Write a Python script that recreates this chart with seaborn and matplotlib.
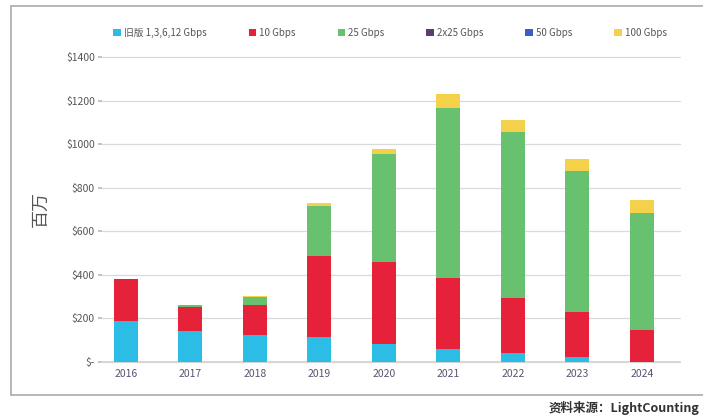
import numpy as np
import pandas as pd
import matplotlib
matplotlib.use("Agg")
import matplotlib.pyplot as plt
from matplotlib.patches import Patch
from matplotlib.lines import Line2D
import seaborn as sns

years = ["2016", "2017", "2018", "2019", "2020", "2021", "2022", "2023", "2024"]
legacy = [189, 141, 123, 115, 81, 57, 38, 20, 0]
g10 = [193, 109, 138, 371, 378, 326, 256, 207, 146]
g25 = [0, 9, 38, 230, 496, 783, 763, 652, 537]
g2x25 = [0, 0, 0, 0, 0, 0, 0, 0, 0]
g50 = [0, 0, 0, 0, 0, 0, 0, 0, 0]
g100 = [0, 0, 3, 16, 22, 66, 55, 53, 61]

series_names = ["旧版 1,3,6,12 Gbps", "10 Gbps", "25 Gbps", "2x25 Gbps", "50 Gbps", "100 Gbps"]
series_vals = [legacy, g10, g25, g2x25, g50, g100]
colors = ["#2BBDE5", "#E6213A", "#67C16F", "#5B3E6B", "#3B5EC6", "#F3D14B"]
yticks = [0, 200, 400, 600, 800, 1000, 1200, 1400]
ytick_labels = ["$-", "$200", "$400", "$600", "$800", "$1000", "$1200", "$1400"]

sns.set_theme(style="white")
plt.rcParams["font.family"] = ["Noto Sans CJK SC", "DejaVu Sans"]

fig = plt.figure(figsize=(7.03, 4.18), dpi=100)
ax = fig.add_axes([0.145, 0.1347, 0.822, 0.7283])

cum = np.cumsum(np.array(series_vals, dtype=float), axis=0)
for i in range(len(series_names) - 1, -1, -1):
    df = pd.DataFrame({"year": years, "value": cum[i]})
    sns.barplot(data=df, x="year", y="value", order=years, color=colors[i],
                width=0.37, saturation=1, ax=ax, zorder=3, linewidth=0)

ax.set_xlim(-0.37, 8.59)
ax.set_ylim(0, 1400)
ax.set_yticks(yticks)
ax.set_yticklabels(ytick_labels)
ax.yaxis.grid(True, color="#DADADA", linewidth=0.9, zorder=0, clip_on=False)
ax.xaxis.grid(False)
for s in ["top", "right", "left"]:
    ax.spines[s].set_visible(False)
ax.spines["bottom"].set_color("#D5D5D5")
ax.tick_params(axis="y", length=3, color="#BBBBBB", labelsize=7.5, labelcolor="#555555", pad=2, left=True)
ax.tick_params(axis="x", length=0, labelsize=7.5, labelcolor="#5A5470", pad=5)
ax.set_xlabel("")
ax.set_ylabel("百万", fontsize=13, color="#555555", labelpad=12)

handles = [Patch(facecolor=c, edgecolor="none") for c in colors]
fig.legend(handles, series_names, loc="center", bbox_to_anchor=(0.555, 0.921), ncol=6,
           frameon=False, fontsize=7, handlelength=0.8, handleheight=0.8,
           handletextpad=0.3, columnspacing=4.3, labelcolor="#555555")

# outer frame (top, left, bottom)
fx0 = 11 / 703
fy_top = 1 - 6 / 418
fy_bot = 1 - 395 / 418
for xs, ys in [([fx0, 1.0], [fy_top, fy_top]), ([fx0, fx0], [fy_bot, fy_top]), ([fx0, 1.0], [fy_bot, fy_bot])]:
    fig.add_artist(Line2D(xs, ys, transform=fig.transFigure, color="#AAAAAA", linewidth=1.2))

fig.text(0.995, 1 - 408 / 418, "资料来源：LightCounting", ha="right", va="center",
         fontsize=9, fontweight="bold", color="#333333")

fig.savefig("out.png", dpi=100)
